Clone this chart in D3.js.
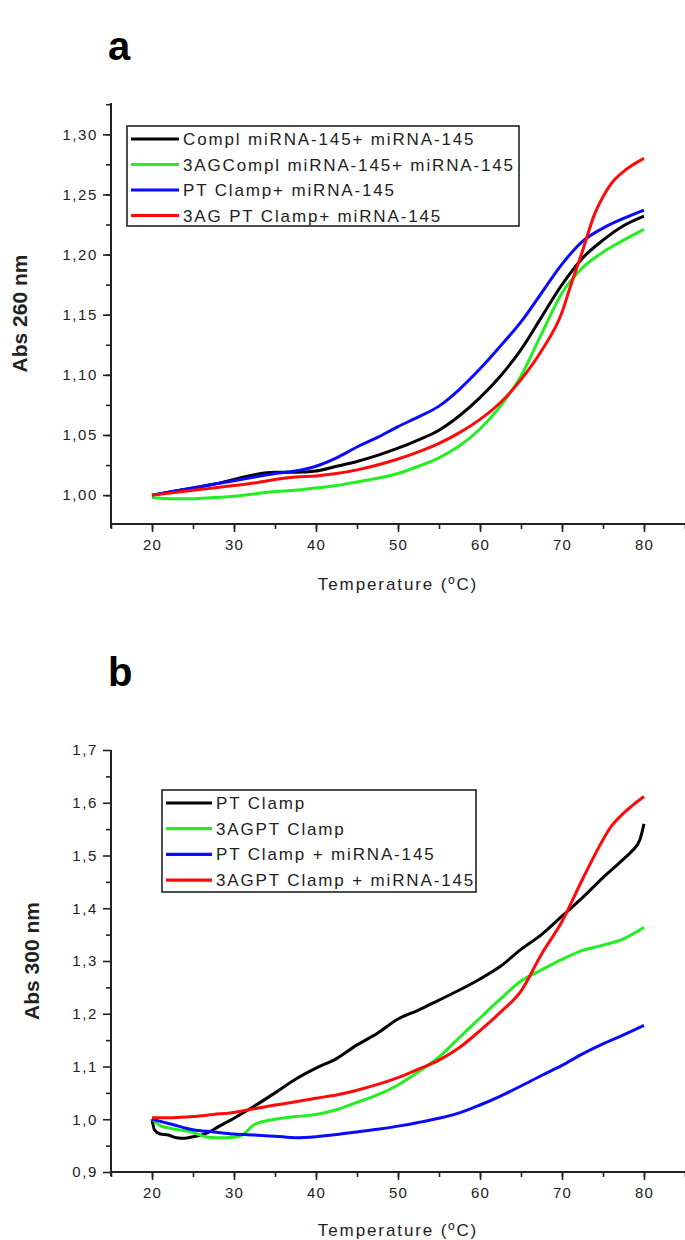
<!DOCTYPE html>
<html><head><meta charset="utf-8">
<script src="https://cdn.jsdelivr.net/npm/d3@7"></script>
<style>
html,body{margin:0;padding:0;background:#fff;}
svg{display:block;font-family:"Liberation Sans",Arial,sans-serif;}
</style></head>
<body>
<svg id="chart" width="685" height="1240"></svg>
<script>
// ---------- Panel a data (Abs 260 nm) ----------
const tempA = [20,22.5,25,27.5,30,32.5,35,37.5,40,42.5,45,47.5,50,52.5,55,57.5,60,62.5,65,67.5,70,72.5,75,77.5,80];
const aCompl    = [1.000,1.003,1.006,1.009,1.013,1.017,1.019,1.019,1.020,1.024,1.028,1.033,1.039,1.046,1.054,1.066,1.081,1.099,1.121,1.148,1.175,1.197,1.212,1.224,1.232];
const a3AGCompl = [0.998,0.997,0.997,0.998,0.999,1.001,1.003,1.004,1.006,1.008,1.011,1.014,1.018,1.024,1.031,1.041,1.055,1.074,1.099,1.134,1.168,1.189,1.202,1.212,1.221];
const aPTClamp  = [1.000,1.003,1.006,1.009,1.012,1.015,1.018,1.020,1.024,1.031,1.040,1.048,1.057,1.065,1.074,1.088,1.105,1.124,1.144,1.168,1.192,1.211,1.222,1.230,1.237];
const tempA_3AGPT = [20,22.5,25,27.5,30,32.5,35,37.5,40,42.5,45,47.5,50,52.5,55,57.5,60,62.5,65,67.5,70,71,72.5,74,75,76,77.5,78.5,80];
const a3AGPT    = [1.000,1.002,1.004,1.006,1.008,1.010,1.013,1.015,1.016,1.018,1.021,1.025,1.030,1.036,1.043,1.052,1.063,1.077,1.096,1.120,1.152,1.173,1.203,1.234,1.248,1.259,1.269,1.274,1.280];
const labelsA = ["Compl miRNA-145+ miRNA-145","3AGCompl miRNA-145+ miRNA-145","PT Clamp+ miRNA-145","3AG PT Clamp+ miRNA-145"];
const yTicksA = [1.00,1.05,1.10,1.15,1.20,1.25,1.30];

// ---------- Panel b data (Abs 300 nm) ----------
const tempB_PT    = [20,20.3,21,22,23,24,25,26,27,28,30,32.5,35,37.5,40,42.5,45,47.5,50,52.5,55,57.5,60,62.5,65,67.5,70,72.5,75,77.5,78.5,79.5,80];
const bPT         = [1.000,0.980,0.972,0.970,0.965,0.964,0.967,0.970,0.976,0.985,1.002,1.025,1.050,1.076,1.097,1.115,1.141,1.163,1.190,1.207,1.226,1.245,1.266,1.290,1.322,1.350,1.385,1.420,1.458,1.493,1.508,1.530,1.560];
const tempB_3AG   = [20,21,22.5,25,26.5,28,30,31,32.5,35,37.5,40,42.5,45,47.5,50,52.5,55,57.5,60,62.5,65,67.5,70,72.5,75,77.5,80];
const b3AG        = [1.000,0.988,0.982,0.975,0.967,0.965,0.966,0.970,0.990,1.000,1.005,1.009,1.018,1.032,1.046,1.065,1.090,1.118,1.155,1.192,1.228,1.262,1.283,1.303,1.320,1.330,1.342,1.364];
const tempB_PTmi  = [20,22.5,25,27.5,30,32.5,35,37.5,40,42.5,45,47.5,50,52.5,55,57.5,60,62.5,65,67.5,70,72.5,75,77.5,80];
const bPTmi       = [1.000,0.990,0.980,0.976,0.972,0.970,0.968,0.965,0.967,0.971,0.976,0.981,0.987,0.994,1.002,1.012,1.027,1.044,1.063,1.083,1.102,1.124,1.143,1.160,1.178];
const tempB_3AGmi = [20,22.5,25,27.5,30,32.5,35,37.5,40,42.5,45,47.5,50,52.5,55,57.5,60,62.5,65,67.5,70,72.5,75,76,77.5,80];
const b3AGmi      = [1.003,1.003,1.005,1.009,1.013,1.020,1.027,1.033,1.040,1.046,1.055,1.066,1.079,1.095,1.112,1.136,1.168,1.203,1.243,1.313,1.375,1.455,1.530,1.555,1.580,1.612];
const labelsB = ["PT Clamp","3AGPT Clamp","PT Clamp + miRNA-145","3AGPT Clamp + miRNA-145"];
const yTicksB = [0.9,1.0,1.1,1.2,1.3,1.4,1.5,1.6,1.7];

const xTicks = [20,30,40,50,60,70,80];
const colors = ["#000000","#22ee22","#0a0aff","#ff0a0a"];

const svg = d3.select("#chart");
const fmtComma = (d, n) => d.toFixed(n).replace(".", ",");

function panel(cfg) {
  const g = svg.append("g");
  const x = d3.scaleLinear().domain([15, 85]).range([111, 685]);
  const y = d3.scaleLinear().domain(cfg.yDomain).range([cfg.yBottom, cfg.yTop]);

  // panel letter
  g.append("text").attr("x", 108).attr("y", cfg.letterY)
    .attr("font-size", 40).attr("font-weight", "bold").text(cfg.letter);

  const xAxisMinor = d3.axisBottom(x).tickValues(d3.range(15, 85.01, 5)).tickSize(5).tickFormat("");
  const yAxisMinor = d3.axisLeft(y).tickValues(cfg.yMinor).tickSize(5).tickFormat("");
  const xAxis = d3.axisBottom(x).tickValues(xTicks).tickSize(8).tickPadding(7).tickFormat(d3.format("d"));
  const yAxis = d3.axisLeft(y).tickValues(cfg.yTicks).tickSize(8).tickPadding(5).tickFormat(d => fmtComma(d, cfg.dec));

  const gxm = g.append("g").attr("transform", `translate(0,${cfg.yBottom})`).call(xAxisMinor);
  const gym = g.append("g").attr("transform", `translate(111,0)`).call(yAxisMinor);
  const gx = g.append("g").attr("transform", `translate(0,${cfg.yBottom})`).call(xAxis);
  const gy = g.append("g").attr("transform", `translate(111,0)`).call(yAxis);
  [gxm, gym, gx, gy].forEach(a => {
    a.selectAll(".domain").attr("stroke", "#222").attr("stroke-width", 2);
    a.selectAll(".tick line").attr("stroke", "#222").attr("stroke-width", 1.6);
  });
  gx.selectAll(".domain").attr("d", `M111,0H685`);
  gy.selectAll(".domain").attr("d", `M0,${cfg.yTop}V${cfg.yBottom + 4}`);
  gxm.selectAll(".domain").remove();
  gym.selectAll(".domain").remove();
  gx.selectAll(".tick text").attr("font-size", 15).attr("letter-spacing", 1.2)
    .attr("font-family", '"Liberation Sans",Arial,sans-serif').attr("fill", "#222");
  gy.selectAll(".tick text").attr("font-size", 15).attr("letter-spacing", 1.6)
    .attr("font-family", '"Liberation Sans",Arial,sans-serif').attr("fill", "#222");

  // axis titles
  g.append("text").attr("transform", `translate(${cfg.yTitleX},${(cfg.yTop + cfg.yBottom) / 2}) rotate(-90)`)
    .attr("text-anchor", "middle").attr("font-size", 21).attr("font-weight", "bold").attr("fill", "#222")
    .text(cfg.yTitle);
  g.append("text").attr("x", 398).attr("y", cfg.xTitleY).attr("text-anchor", "middle")
    .attr("font-size", 17).attr("letter-spacing", 1.9).attr("fill", "#222").text("Temperature (ºC)");

  // lines
  const line = d3.line().x(d => x(d[0])).y(d => y(d[1])).curve(d3.curveMonotoneX);
  cfg.series.forEach((s, i) => {
    g.append("path").datum(d3.zip(s.t, s.v)).attr("d", line)
      .attr("fill", "none").attr("stroke", colors[i]).attr("stroke-width", 3).attr("stroke-linejoin", "round");
  });

  // legend
  const L = cfg.legend;
  g.append("rect").attr("x", L.x).attr("y", L.y).attr("width", L.w).attr("height", L.h)
    .attr("fill", "#fff").attr("stroke", "#222").attr("stroke-width", 1.6);
  cfg.labels.forEach((lab, i) => {
    const yy = L.y + L.first + i * L.step;
    g.append("line").attr("x1", L.x + 4).attr("x2", L.x + 4 + L.len).attr("y1", yy).attr("y2", yy)
      .attr("stroke", colors[i]).attr("stroke-width", 3.2);
    g.append("text").attr("x", L.x + 8 + L.len).attr("y", yy + 6).attr("font-size", 17)
      .attr("letter-spacing", 1.85).attr("fill", "#222").text(lab);
  });
}

panel({
  letter: "a", letterY: 60,
  yDomain: [0.976, 1.326], yBottom: 524, yTop: 103,
  yTicks: yTicksA, yMinor: d3.range(0, 15).map(i => 0.975 + i * 0.025).filter(v => v > 0.9755), dec: 2,
  yTitle: "Abs 260 nm", yTitleX: 27, xTitleY: 590,
  series: [{t: tempA, v: aCompl}, {t: tempA, v: a3AGCompl}, {t: tempA, v: aPTClamp}, {t: tempA_3AGPT, v: a3AGPT}],
  labels: labelsA,
  legend: {x: 127, y: 126, w: 392, h: 100, first: 13, step: 25.5, len: 48}
});

panel({
  letter: "b", letterY: 686,
  yDomain: [0.9, 1.7], yBottom: 1172, yTop: 750,
  yTicks: yTicksB, yMinor: d3.range(0, 8).map(i => 0.95 + i * 0.1), dec: 1,
  yTitle: "Abs 300 nm", yTitleX: 39, xTitleY: 1236,
  series: [{t: tempB_PT, v: bPT}, {t: tempB_3AG, v: b3AG}, {t: tempB_PTmi, v: bPTmi}, {t: tempB_3AGmi, v: b3AGmi}],
  labels: labelsB,
  legend: {x: 162, y: 790, w: 314, h: 102, first: 13, step: 25.7, len: 46}
});
</script>
</body></html>
